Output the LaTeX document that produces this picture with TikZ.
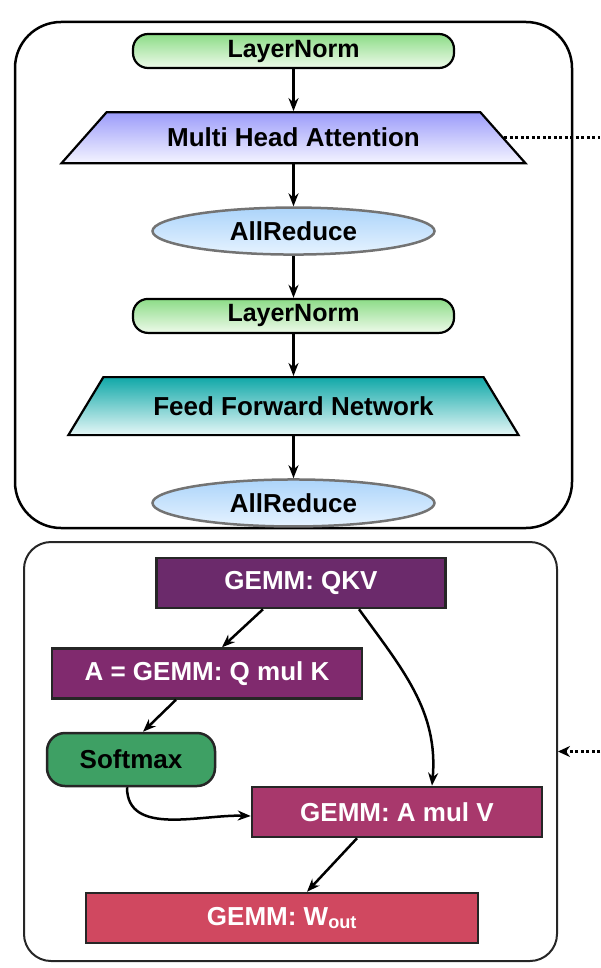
\documentclass[tikz,border=0pt]{standalone}
\usepackage{fontspec}
\setmainfont{Liberation Sans}
\usetikzlibrary{positioning,shapes.geometric,arrows.meta}
\definecolor{lntop}{RGB}{140,220,135}
\definecolor{lnbot}{RGB}{238,250,234}
\definecolor{mhatop}{RGB}{156,156,250}
\definecolor{mhabot}{RGB}{244,244,255}
\definecolor{artop}{RGB}{172,212,250}
\definecolor{arbot}{RGB}{230,243,255}
\definecolor{ffntop}{RGB}{16,168,168}
\definecolor{ffnbot}{RGB}{230,247,247}
\definecolor{qkvcol}{RGB}{107,42,107}
\definecolor{qkcol}{RGB}{128,42,110}
\definecolor{softcol}{RGB}{62,160,100}
\definecolor{avcol}{RGB}{168,56,108}
\definecolor{woutcol}{RGB}{208,72,96}
\tikzset{
bigframe/.style={draw=black,line width=2.5pt,rounded corners=46pt},
smallframe/.style={draw=black!85,line width=2pt,rounded corners=27pt},
lnbox/.style={draw=black,line width=2.2pt,rounded corners=15pt,minimum width=321pt,minimum height=34pt,
top color=lntop,bottom color=lnbot,font=\fontsize{25}{30}\selectfont\bfseries},
trapbox/.style={trapezium,trapezium stretches=true,draw=black,line width=2.2pt,
font=\fontsize{26}{30}\selectfont\bfseries},
arbox/.style={ellipse,draw=black!55,line width=2.5pt,inner sep=2pt,minimum width=282pt,minimum height=47pt,
top color=artop,bottom color=arbot,font=\fontsize{26}{30}\selectfont\bfseries},
gemm/.style={draw=black!85,line width=2.5pt,minimum height=50pt,text=white,
font=\fontsize{26}{30}\selectfont\bfseries},
softbox/.style={draw=black!85,line width=2.5pt,rounded corners=18pt,fill=softcol,minimum width=168pt,
minimum height=53pt,font=\fontsize{26}{30}\selectfont\bfseries},
flow/.style={-{Stealth[length=13pt,width=10pt]},line width=2.5pt},
dotline/.style={line width=3pt,dash pattern=on 3pt off 2.5pt}
}
\begin{document}
\begin{tikzpicture}[x=1pt,y=-1pt,every node/.style={inner sep=3pt}]
\useasboundingbox (0,0) rectangle (600,968);
% frames
\node[bigframe,minimum width=557pt,minimum height=506pt] (layer) at (293.5,275) {};
\node[smallframe,minimum width=533pt,minimum height=419pt] (detail) at (290.5,751.5) {};
% transformer layer
\node[lnbox] (ln1) at (293.5,51) {LayerNorm};
\node[trapbox,trapezium angle=38.8,minimum width=464pt,minimum height=51pt,
top color=mhatop,bottom color=mhabot,below=42pt of ln1] (mha) {Multi Head Attention};
\node[arbox,below=42pt of mha] (ar1) {AllReduce};
\node[lnbox,below=42pt of ar1] (ln2) {LayerNorm};
\node[trapbox,trapezium angle=43.6,minimum width=451pt,minimum height=58pt,
top color=ffntop,bottom color=ffnbot,below=42pt of ln2] (ffn) {Feed Forward Network};
\node[arbox,below=42pt of ffn] (ar2) {AllReduce};
\draw[flow] (ln1.south) -- (mha.north);
\draw[flow] (mha.south) -- (ar1.north);
\draw[flow] (ar1.south) -- (ln2.north);
\draw[flow] (ln2.south) -- (ffn.north);
\draw[flow] (ffn.south) -- (ar2.north);
% attention detail
\node[gemm,fill=qkvcol,minimum width=289pt] (qkv) at (301,583) {GEMM: QKV};
\node[gemm,fill=qkcol,minimum width=310pt] (qk) at (207,673.5) {A = GEMM: Q mul K};
\node[softbox] (soft) at (131,759.5) {Softmax};
\node[gemm,fill=avcol,minimum width=290pt] (av) at (397,812) {GEMM: A mul V};
\node[gemm,fill=woutcol,minimum width=392pt] (wout) at (282,918) {GEMM: W\textsubscript{out}};
\draw[flow] ([xshift=-38pt]qkv.south) -- ([xshift=15pt]qk.north);
\draw[flow] ([xshift=58pt]qkv.south) to[out=-54,in=85] ([xshift=35pt]av.north);
\draw[flow] ([xshift=-31pt]qk.south) -- ([xshift=12pt]soft.north);
\draw[flow] ([xshift=-4pt]soft.south) to[out=-90,in=178] ([yshift=-4pt]av.west);
\draw[flow] ([xshift=-40pt]av.south) -- ([xshift=25pt]wout.north);
% link between the two
\coordinate (mhaout) at (600,0 |- mha.east);
\coordinate (detailin) at (600,0 |- detail.east);
\draw[dotline] (mha.east) -- (mhaout);
\draw[dotline,-{Stealth[length=12pt,width=11pt]}] (detailin) -- (detail.east);
\end{tikzpicture}
\end{document}
